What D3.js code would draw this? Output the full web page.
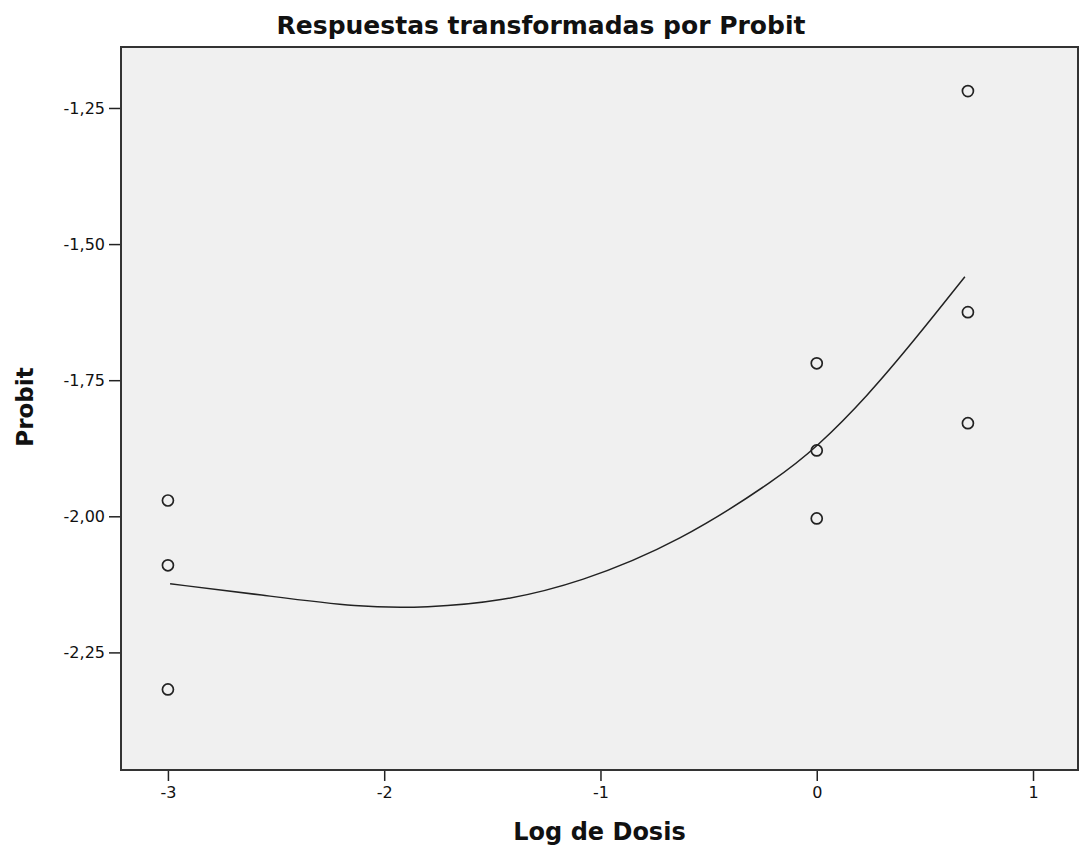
<!DOCTYPE html>
<meta charset="utf-8">

<style>
body{
	background-color: #fff;
	margin: 0px;
}

text{
	font-family: "DejaVu Sans", sans-serif;
	fill: #111;
}

.axis path{ display: none; }
.axis line{ stroke: #222; stroke-width: 1.5; }

</style>

<body></body>

<script src="https://cdn.jsdelivr.net/npm/d3@7"></script>

<script>

// observed probits by log dose
var logDose  = [-3, -3, -3, 0, 0, 0, 0.699, 0.699, 0.699]
var probit   = [-1.971, -2.090, -2.318, -1.719, -1.879, -2.004, -1.219, -1.625, -1.829]

// fitted curve
var fitX = [-2.99, -2.575, -2.112, -1.803, -1.465, -1.095, -0.633, -0.171, 0, 0.231, 0.463, 0.685]
var fitY = [-2.124, -2.144, -2.168, -2.168, -2.157, -2.122, -2.047, -1.928, -1.873, -1.781, -1.671, -1.560]

var xTicks = [-3, -2, -1, 0, 1]
var yTicks = [-1.25, -1.50, -1.75, -2.00, -2.25]

var width = 1080, height = 855,
		plotL = 121, plotR = 1078, plotT = 47, plotB = 770

var svg = d3.select('body')
	.append('svg')
		.attr('width', width)
		.attr('height', height)

var x = d3.scaleLinear().domain([-3.217, 1.208]).range([plotL, plotR])
var y = d3.scaleLinear().domain([-2.466, -1.138]).range([plotB, plotT])

var fmt = d3.formatLocale({decimal: ',', thousands: '.', grouping: [3], currency: ['', ''], minus: '-'})

svg.append('rect')
		.attr('x', plotL).attr('y', plotT)
		.attr('width', plotR - plotL).attr('height', plotB - plotT)
		.attr('fill', '#f0f0f0')

svg.append('g').attr('class', 'axis')
		.attr('transform', 'translate(0,' + plotB + ')')
		.call(d3.axisBottom(x).tickValues(xTicks).tickSize(11).tickPadding(6).tickFormat(fmt.format('d')))
	.selectAll('text')
		.style('font-size', '16px').style('fill', '#111')

svg.append('g').attr('class', 'axis')
		.attr('transform', 'translate(' + plotL + ',0)')
		.call(d3.axisLeft(y).tickValues(yTicks).tickSize(12).tickPadding(4).tickFormat(fmt.format('.2f')))
	.selectAll('text')
		.style('font-size', '16px').style('fill', '#111')

// frame
svg.append('path')
		.attr('d', 'M' + plotL + ',' + plotT + 'H' + plotR + 'V' + plotB + 'H' + plotL + 'Z')
		.attr('fill', 'none')
		.attr('stroke', '#333')
		.attr('stroke-width', 2)

var fit = d3.range(fitX.length).map(function(i){ return [fitX[i], fitY[i]] })

svg.append('path')
		.datum(fit)
		.attr('fill', 'none')
		.attr('stroke', '#222')
		.attr('stroke-width', 1.5)
		.attr('d', d3.line()
			.x(function(d){ return x(d[0]) })
			.y(function(d){ return y(d[1]) })
			.curve(d3.curveBasis))

svg.selectAll('circle.obs')
		.data(d3.range(logDose.length))
	.enter().append('circle')
		.attr('class', 'obs')
		.attr('cx', function(i){ return x(logDose[i]) })
		.attr('cy', function(i){ return y(probit[i]) })
		.attr('r', 5.5)
		.attr('fill', 'none')
		.attr('stroke', '#222')
		.attr('stroke-width', 1.7)

svg.append('text')
		.attr('x', 541).attr('y', 34)
		.attr('text-anchor', 'middle')
		.style('font-size', '25px').style('font-weight', 'bold')
		.text('Respuestas transformadas por Probit')

svg.append('text')
		.attr('x', (plotL + plotR) / 2).attr('y', 840)
		.attr('text-anchor', 'middle')
		.style('font-size', '24px').style('font-weight', 'bold')
		.text('Log de Dosis')

svg.append('text')
		.attr('transform', 'translate(33,' + 407 + ') rotate(-90)')
		.attr('text-anchor', 'middle')
		.style('font-size', '23px').style('font-weight', 'bold')
		.text('Probit')

</script>
